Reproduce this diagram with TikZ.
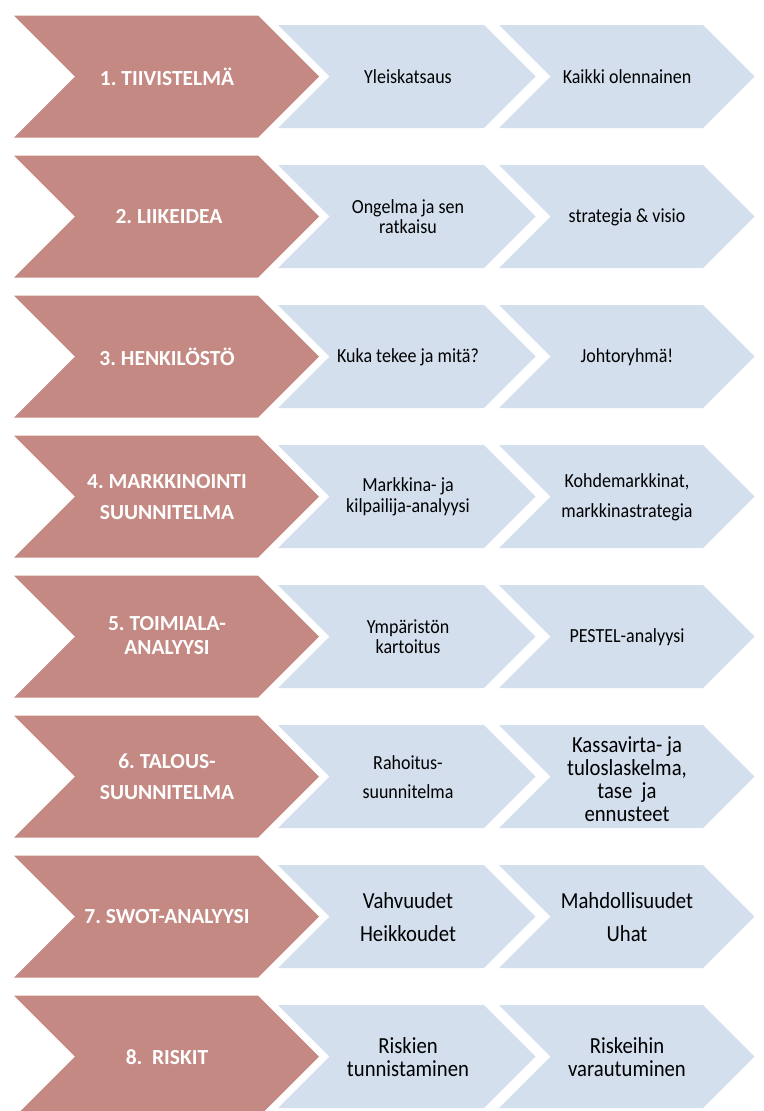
\documentclass[tikz,border=0pt]{standalone}
\usepackage{fontspec}
\setmainfont{Carlito}
\newfontfamily\narrowfont{Carlito}[FakeStretch=0.9]
\definecolor{rosefill}{RGB}{196,137,131}
\definecolor{bluefill}{RGB}{212,223,238}
\frenchspacing
\begin{document}
\begin{tikzpicture}[x=1pt,y=-1pt,
  redtxt/.style={text=white,font=\fontsize{21.5}{31}\selectfont\bfseries,align=center,inner sep=0pt},
  bluetxt/.style={text=black,font=\narrowfont\fontsize{20}{20}\selectfont,align=center,inner sep=0pt},
  bigtxt/.style={text=black,font=\narrowfont\fontsize{23}{23}\selectfont,align=center,inner sep=0pt}]
\useasboundingbox (0,0) rectangle (763,1111);
% chevron: left x, right x (start of point), centre y, half height, fill
\newcommand\chevshape[5]{%
  \fill[#5] (#1,#3-#4) -- (#2,#3-#4) -- (#2+#4,#3) -- (#2,#3+#4) -- (#1,#3+#4) -- (#1+#4,#3) -- cycle;}
\foreach \r in {0,...,7}{
  \pgfmathsetmacro\cy{76.5+140*\r}
  \chevshape{14}{258}{\cy}{61}{rosefill}
  \chevshape{278}{484}{\cy}{51.5}{bluefill}
  \chevshape{499}{703}{\cy}{51.5}{bluefill}
}
% row 1
\node[redtxt]  (t1) at (167,77)  {1. TIIVISTELMÄ};
\node[bluetxt] (a1) at (408,77)  {Yleiskatsaus};
\node[bluetxt] (b1) at (627,77)  {Kaikki olennainen};
% row 2
\node[redtxt]  (t2) at (169,217) {2. LIIKEIDEA};
\node[bluetxt] (a2) at (408,217) {Ongelma ja sen\\ratkaisu};
\node[bluetxt] (b2) at (627,217) {strategia \& visio};
% row 3
\node[redtxt]  (t3) at (167,357) {3. HENKILÖSTÖ};
\node[bluetxt] (a3) at (408,357) {Kuka tekee ja mitä?};
\node[bluetxt] (b3) at (627,357) {Johtoryhmä!};
% row 4
\node[redtxt]  (t4) at (167,497) {4. MARKKINOINTI\\SUUNNITELMA};
\node[bluetxt,font=\narrowfont\fontsize{20}{21}\selectfont] (a4) at (408,497) {Markkina- ja\\kilpailija-analyysi};
\node[bluetxt,font=\narrowfont\fontsize{20}{30}\selectfont] (b4) at (627,497) {Kohdemarkkinat,\\markkinastrategia};
% row 5
\node[redtxt,font=\fontsize{21.5}{24}\selectfont\bfseries] (t5) at (167,636) {5. TOIMIALA-\\ANALYYSI};
\node[bluetxt] (a5) at (408,637) {Ympäristön\\kartoitus};
\node[bluetxt] (b5) at (627,637) {PESTEL-analyysi};
% row 6
\node[redtxt]  (t6) at (167,777) {6. TALOUS-\\SUUNNITELMA};
\node[bluetxt,font=\narrowfont\fontsize{20}{29}\selectfont] (a6) at (408,777) {Rahoitus-\\suunnitelma};
\node[bigtxt]  (b6) at (627,779) {Kassavirta- ja\\tuloslaskelma,\\tase\ \ ja\\ennusteet};
% row 7
\node[bigtxt,font=\narrowfont\fontsize{23}{33}\selectfont] (a7) at (408,917) {Vahvuudet\\Heikkoudet};
\node[bigtxt,font=\narrowfont\fontsize{23}{33}\selectfont] (b7) at (627,917) {Mahdollisuudet\\Uhat};
\node[redtxt]  (t7) at (167,917) {7. SWOT-ANALYYSI};
% row 8
\node[redtxt]  (t8) at (167,1057) {8.\ \ RISKIT};
\node[bigtxt]  (a8) at (408,1057) {Riskien\\tunnistaminen};
\node[bigtxt]  (b8) at (627,1057) {Riskeihin\\varautuminen};
\end{tikzpicture}
\end{document}
